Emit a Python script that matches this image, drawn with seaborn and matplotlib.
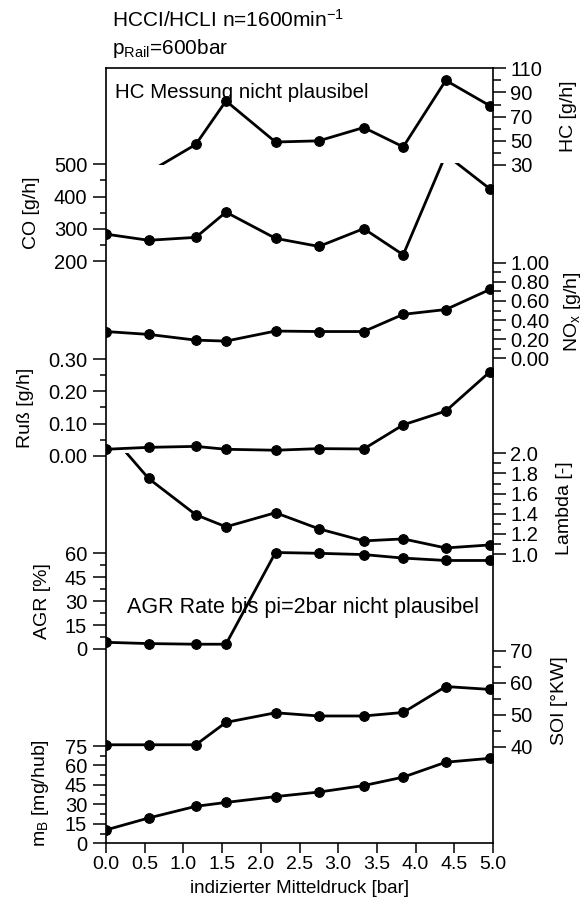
import matplotlib
matplotlib.use("Agg")
import matplotlib.pyplot as plt
import seaborn as sns
import numpy as np
import pandas as pd

sns.set_theme(style="white")
plt.rcParams["font.family"] = ["Liberation Sans", "DejaVu Sans"]
plt.rcParams["mathtext.fontset"] = "custom"
plt.rcParams["mathtext.rm"] = "Liberation Sans"
plt.rcParams["mathtext.it"] = "Liberation Sans"
plt.rcParams["mathtext.default"] = "regular"

# ---------------- data ----------------
pi_bar = [0.0, 0.55, 1.16, 1.55, 2.19, 2.75, 3.33, 3.84, 4.39, 4.96]
hc = [20, 24, 47, 83, 49, 50, 61, 45, 100, 79]
co = [284, 265, 274, 352, 271, 246, 301, 220, 530, 424]
nox = [0.28, 0.25, 0.19, 0.18, 0.285, 0.28, 0.28, 0.46, 0.51, 0.72]
russ = [0.02, 0.026, 0.029, 0.02, 0.017, 0.022, 0.021, 0.096, 0.139, 0.261]
lam = [2.24, 1.75, 1.39, 1.27, 1.41, 1.25, 1.13, 1.15, 1.06, 1.09]
agr = [4.2, 3.4, 3.0, 3.0, 60.5, 60.0, 59.2, 57.0, 55.5, 55.5]
soi = [40.6, 40.6, 40.6, 47.6, 50.6, 49.6, 49.6, 50.7, 58.8, 57.9]
mb = [10.3, 19.5, 28.5, 31.5, 36.0, 39.5, 44.5, 51.0, 62.5, 65.5]

x_ticks = [0.0, 0.5, 1.0, 1.5, 2.0, 2.5, 3.0, 3.5, 4.0, 4.5, 5.0]
x_label = "indizierter Mitteldruck [bar]"
title1 = "HCCI/HCLI n=1600min$^{-1}$"
title2 = "p$_{Rail}$=600bar"
note_hc = "HC Messung nicht plausibel"
note_agr = "AGR Rate bis pi=2bar nicht plausibel"

# panel definitions: values, label, side, major ticks, minor ticks, tick-format,
# pixel of first/last major tick, visible limits
panels = [
    (hc, "HC [g/h]", "right", [30, 50, 70, 90, 110], [40, 60, 80, 100], "{:.0f}", 165.0, 68.3, (30, 110)),
    (co, "CO [g/h]", "left", [200, 300, 400, 500], [250, 350, 450], "{:.0f}", 261.3, 164.3, (195, 505)),
    (nox, "NO$_x$ [g/h]", "right", [0, 0.2, 0.4, 0.6, 0.8, 1.0], [0.1, 0.3, 0.5, 0.7, 0.9], "{:.2f}", 358.3, 262.7, (-0.05, 1.03)),
    (russ, "Ruß [g/h]", "left", [0, 0.1, 0.2, 0.3], [0.05, 0.15, 0.25], "{:.2f}", 455.7, 359.3, (-0.02, 0.32)),
    (lam, "Lambda [-]", "right", [1.0, 1.2, 1.4, 1.6, 1.8, 2.0], [1.1, 1.3, 1.5, 1.7, 1.9], "{:.1f}", 554.0, 453.3, (0.9, 2.0)),
    (agr, "AGR [%]", "left", [0, 15, 30, 45, 60], [7.5, 22.5, 37.5, 52.5], "{:.0f}", 649.0, 553.3, (-4, 64)),
    (soi, "SOI [°KW]", "right", [40, 50, 60, 70], [45, 55, 65], "{:.0f}", 746.7, 650.7, (37, 72)),
    (mb, "m$_B$ [mg/hub]", "left", [0, 15, 30, 45, 60, 75], [7.5, 22.5, 37.5, 52.5, 67.5], "{:.0f}", 843.3, 746.0, (0, 78)),
]

W, H = 587, 899
fig = plt.figure(figsize=(W / 100, H / 100), dpi=100)
fig.patch.set_facecolor("white")

X0, X1 = 106.0, 493.0
YT, YB = 68.0, 843.3

main = fig.add_axes([X0 / W, 1 - YB / H, (X1 - X0) / W, (YB - YT) / H])
main.set_xlim(0, 5)
main.set_ylim(0, 1)
main.set_facecolor("none")
main.set_xticks(x_ticks)
main.set_xticklabels([f"{t:.1f}" for t in x_ticks], fontsize=14)
main.set_yticks([])
main.tick_params(axis="x", direction="out", length=7, width=1.1, pad=2.5, colors="black", bottom=True)
for s in main.spines.values():
    s.set_visible(True)
    s.set_color("black")
    s.set_linewidth(1.2)
main.set_xlabel(x_label, fontsize=13.5, labelpad=5, color="black")
main.grid(False)

for vals, label, side, majors, minors, fmt, p_lo, p_hi, (ya, yb) in panels:
    lo, hi = majors[0], majors[-1]
    px = lambda v: p_lo + (v - lo) / (hi - lo) * (p_hi - p_lo)
    top_px, bot_px = px(yb), px(ya)
    ax = fig.add_axes([X0 / W, 1 - bot_px / H, (X1 - X0) / W, (bot_px - top_px) / H], sharex=main)
    ax.set_facecolor("none")
    for s in ax.spines.values():
        s.set_visible(False)
    df = pd.DataFrame({"x": pi_bar, "y": vals})
    sns.lineplot(data=df, x="x", y="y", ax=ax, sort=False, color="black", linewidth=2.0,
                 marker="o", markersize=7, markeredgecolor="black", markerfacecolor="black")
    ax.set_ylim(ya, yb)
    ax.set_xlim(0, 5)
    ax.set_yticks(majors)
    ax.set_yticklabels([fmt.format(m) for m in majors], fontsize=14.5)
    ax.set_yticks(minors, minor=True)
    ax.tick_params(axis="x", bottom=False, labelbottom=False, top=False)
    ax.set_xlabel("")
    ax.grid(False)
    if side == "right":
        ax.yaxis.tick_right()
        ax.yaxis.set_label_position("right")
        ax.tick_params(axis="y", which="both", direction="out", colors="black", width=1.1,
                       left=False, right=True, labelleft=False, labelright=True)
        ax.tick_params(axis="y", which="major", length=9.5, pad=3)
        ax.tick_params(axis="y", which="minor", length=5.5)
        pad = 9 if label.startswith("NO") else 13
        ax.set_ylabel(label, fontsize=14, labelpad=pad, color="black")
    else:
        ax.tick_params(axis="y", which="both", direction="out", colors="black", width=1.1,
                       left=True, right=False, labelleft=True, labelright=False)
        ax.tick_params(axis="y", which="major", length=9.5, pad=4)
        ax.tick_params(axis="y", which="minor", length=4.5)
        ax.set_ylabel(label, fontsize=14, labelpad=10, color="black")

fig.text(112 / W, 1 - 27 / H, title1, fontsize=15, ha="left", va="baseline", color="black")
fig.text(112 / W, 1 - 54 / H, title2, fontsize=15, ha="left", va="baseline", color="black")
fig.text(115 / W, 1 - 93 / H, note_hc, fontsize=14.8, ha="left", va="center", color="black")
fig.text(127 / W, 1 - 607 / H, note_agr, fontsize=15.5, ha="left", va="center", color="black")

fig.savefig("out.png", dpi=100, facecolor="white")
